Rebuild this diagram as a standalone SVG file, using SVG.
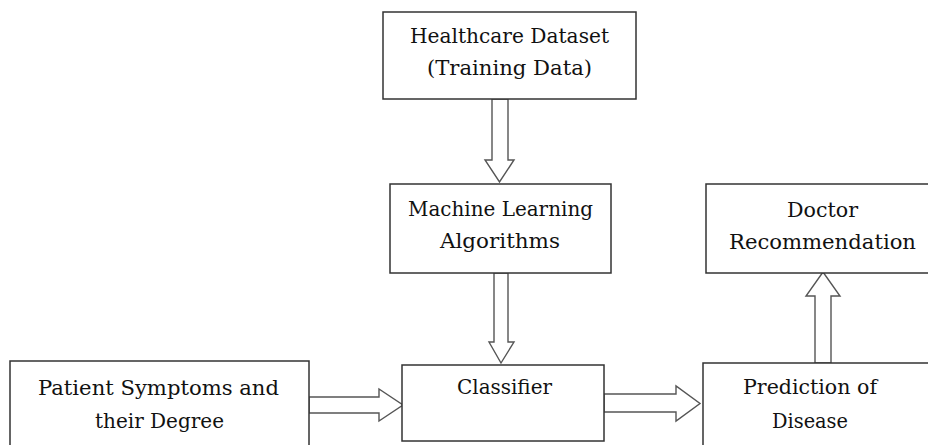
<svg xmlns="http://www.w3.org/2000/svg" width="928" height="445" viewBox="0 0 928 445">
  <style>
    .box { fill: #ffffff; stroke: #333333; stroke-width: 1.5; }
    .arrow { fill: #ffffff; stroke: #555555; stroke-width: 1.4; stroke-linejoin: miter; }
    .label { font-family: 'DejaVu Serif', 'Liberation Serif', serif; font-size: 20px; fill: #111111; text-anchor: middle; }
  </style>
  <rect width="928" height="445" fill="#ffffff"/>

  <!-- hollow block arrows -->
  <g id="connectors">
    <polygon class="arrow" points="492,99 508,99 508,160 514,160 499.5,182 485,160 492,160"/>
    <polygon class="arrow" points="494,273 508,273 508,342 514,342 501,363 489,342 494,342"/>
    <polygon class="arrow" points="309,397 379,397 379,389 403,405 379,421 379,413 309,413"/>
    <polygon class="arrow" points="604,394 676,394 676,386 700,403.5 676,421 676,412 604,412"/>
    <polygon class="arrow" points="815,363 815,296 806,296 823,272 840,296 831,296 831,363"/>
  </g>

  <g id="healthcare-dataset">
    <rect class="box" x="383" y="12" width="253" height="87"/>
    <text class="label" x="509.5" y="43" textLength="199" lengthAdjust="spacingAndGlyphs">Healthcare Dataset</text>
    <text class="label" x="509.5" y="75" textLength="165" lengthAdjust="spacingAndGlyphs">(Training Data)</text>
  </g>

  <g id="ml-algorithms">
    <rect class="box" x="390" y="184" width="221" height="89"/>
    <text class="label" x="500.5" y="216" textLength="185" lengthAdjust="spacingAndGlyphs">Machine Learning</text>
    <text class="label" x="500" y="248" textLength="120" lengthAdjust="spacingAndGlyphs">Algorithms</text>
  </g>

  <g id="doctor-recommendation">
    <rect class="box" x="706" y="184" width="240" height="89"/>
    <text class="label" x="822.5" y="217" textLength="71" lengthAdjust="spacingAndGlyphs">Doctor</text>
    <text class="label" x="822.5" y="249" textLength="187" lengthAdjust="spacingAndGlyphs">Recommendation</text>
  </g>

  <g id="patient-symptoms">
    <rect class="box" x="10" y="361" width="299" height="100"/>
    <text class="label" x="158.5" y="395" textLength="241" lengthAdjust="spacingAndGlyphs">Patient Symptoms and</text>
    <text class="label" x="159.5" y="428" textLength="129" lengthAdjust="spacingAndGlyphs">their Degree</text>
  </g>

  <g id="classifier">
    <rect class="box" x="402" y="365" width="202" height="76"/>
    <text class="label" x="504.5" y="394" textLength="95" lengthAdjust="spacingAndGlyphs">Classifier</text>
  </g>

  <g id="prediction">
    <rect class="box" x="703" y="363" width="240" height="100"/>
    <text class="label" x="810" y="394" textLength="134" lengthAdjust="spacingAndGlyphs">Prediction of</text>
    <text class="label" x="810" y="428" textLength="76" lengthAdjust="spacingAndGlyphs">Disease</text>
  </g>
</svg>
